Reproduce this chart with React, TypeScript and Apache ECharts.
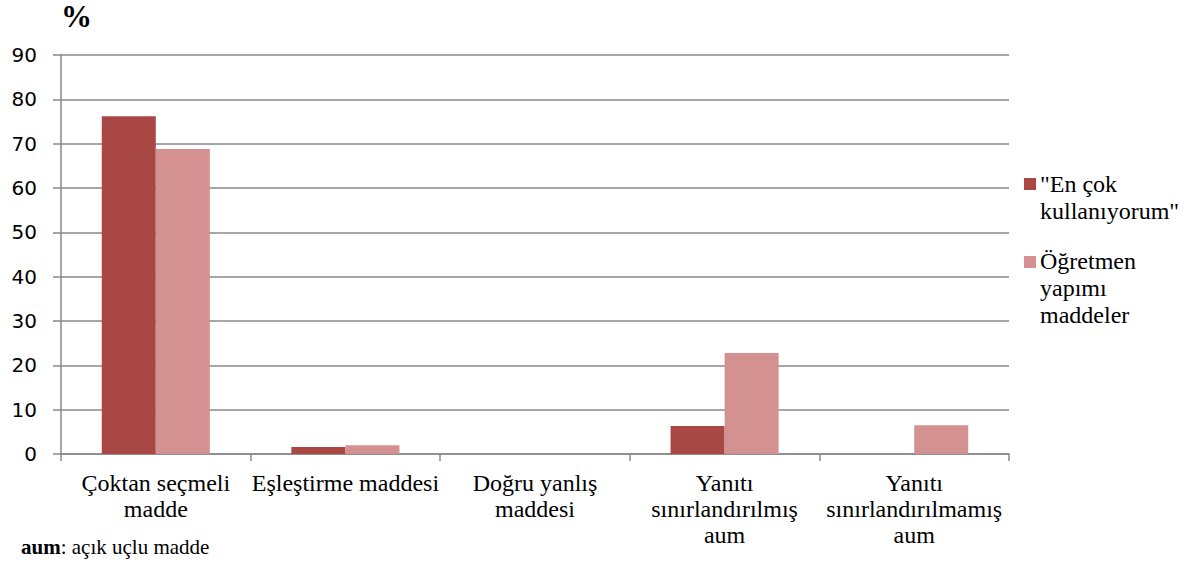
import React, { useEffect, useRef } from "react";
import * as echarts from "echarts";

const categories = [
  "Çoktan seçmeli\nmadde",
  "Eşleştirme maddesi",
  "Doğru yanlış\nmaddesi",
  "Yanıtı\nsınırlandırılmış\naum",
  "Yanıtı\nsınırlandırılmamış\naum",
];
const seriesNames = ['"En çok\nkullanıyorum"', "Öğretmen\nyapımı\nmaddeler"];
const enCok = [76.2, 1.6, 0, 6.3, 0];
const ogretmen = [68.8, 2.0, 0, 22.8, 6.5];
const yTicks = { min: 0, max: 90, interval: 10 };
const colors = ["#A94744", "#D39291"];

export default function App() {
  const ref = useRef<HTMLDivElement>(null);
  useEffect(() => {
    document.body.style.margin = "0";
    const chart = echarts.init(ref.current!, null, { renderer: "svg" });
    const serif = "Times New Roman, Liberation Serif, serif";
    chart.setOption({
      animation: false,
      textStyle: { fontFamily: serif },
      grid: { left: 61, right: 176, top: 55, bottom: 114 },
      xAxis: {
        type: "category",
        data: categories,
        axisLine: { lineStyle: { color: "#888", width: 1.5 } },
        axisTick: { show: true, length: 7, lineStyle: { color: "#888", width: 1.5 } },
        axisLabel: {
          color: "#000",
          fontFamily: serif,
          fontSize: 24,
          lineHeight: 26,
          margin: 16,
          interval: 0,
        },
      },
      yAxis: {
        type: "value",
        min: yTicks.min,
        max: yTicks.max,
        interval: yTicks.interval,
        axisLine: { show: true, lineStyle: { color: "#888", width: 1.5 } },
        axisTick: { show: true, length: 8, lineStyle: { color: "#888", width: 1.5 } },
        splitLine: { lineStyle: { color: "#888", width: 1.5 } },
        axisLabel: {
          color: "#000",
          fontFamily: "Verdana, DejaVu Sans, sans-serif",
          fontSize: 20,
          margin: 24,
        },
      },
      series: [
        {
          type: "bar",
          name: seriesNames[0],
          data: enCok,
          barGap: "0%",
          barCategoryGap: "43%",
          itemStyle: { color: colors[0] },
        },
        {
          type: "bar",
          name: seriesNames[1],
          data: ogretmen,
          barGap: "0%",
          barCategoryGap: "43%",
          itemStyle: { color: colors[1] },
        },
      ],
      graphic: [
        {
          type: "text",
          x: 61,
          y: 1,
          style: { text: "%", fontFamily: serif, fontWeight: "bold", fontSize: 31, fill: "#000" },
        },
        {
          type: "rect",
          shape: { x: 1024, y: 178, width: 12, height: 12 },
          style: { fill: colors[0] },
        },
        {
          type: "text",
          x: 1040,
          y: 170,
          style: {
            text: seriesNames[0],
            fontFamily: serif,
            fontSize: 24,
            lineHeight: 27,
            fill: "#000",
          },
        },
        {
          type: "rect",
          shape: { x: 1024, y: 256, width: 12, height: 12 },
          style: { fill: colors[1] },
        },
        {
          type: "text",
          x: 1040,
          y: 247,
          style: {
            text: seriesNames[1],
            fontFamily: serif,
            fontSize: 24,
            lineHeight: 27,
            fill: "#000",
          },
        },
        {
          type: "text",
          x: 21,
          y: 536,
          style: {
            rich: {
              b: { fontFamily: serif, fontWeight: "bold", fontSize: 21, fill: "#000" },
              n: { fontFamily: serif, fontSize: 21, fill: "#000" },
            },
            text: "{b|aum}{n|: açık uçlu madde}",
          },
        },
      ],
    });
    return () => chart.dispose();
  }, []);
  return <div ref={ref} style={{ width: 1185, height: 568 }} />;
}
